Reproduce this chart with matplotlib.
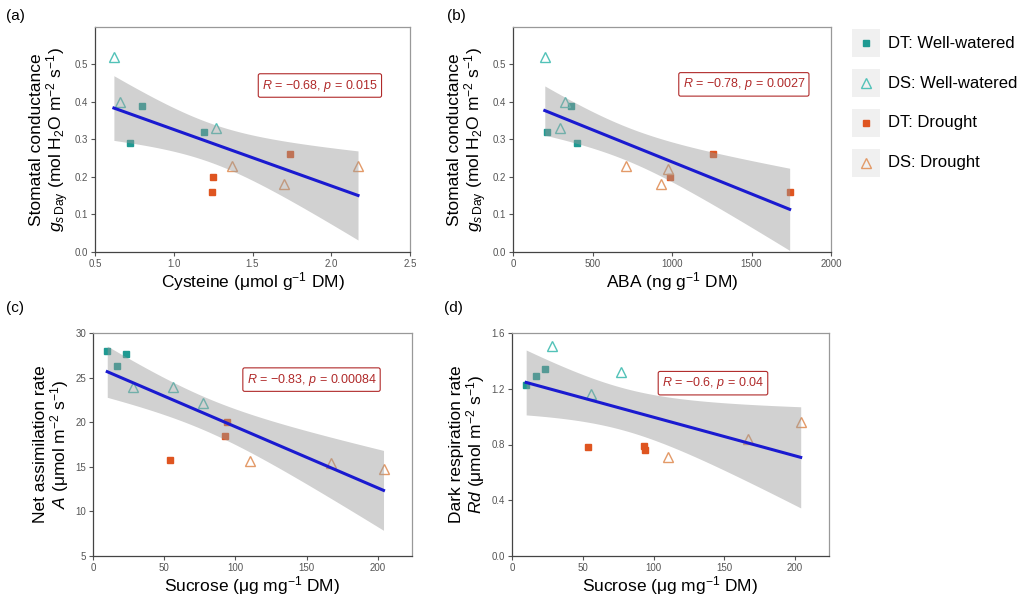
import numpy as np
import matplotlib
matplotlib.use("Agg")
import matplotlib.pyplot as plt
from matplotlib.lines import Line2D
from matplotlib.patches import Rectangle

plt.rcParams['font.family'] = ['Liberation Sans', 'DejaVu Sans']
plt.rcParams['mathtext.fontset'] = 'custom'
plt.rcParams['mathtext.rm'] = 'Liberation Sans'
plt.rcParams['mathtext.it'] = 'Liberation Sans:italic'

groups = ["DT: Well-watered", "DS: Well-watered", "DT: Drought", "DS: Drought"]

# (a) cysteine vs gs
cys_x = [[0.80, 0.72, 1.19], [0.62, 0.66, 1.27], [1.25, 1.24, 1.74], [1.37, 1.70, 2.17]]
cys_gs = [[0.39, 0.29, 0.32], [0.52, 0.40, 0.33], [0.20, 0.16, 0.26], [0.23, 0.18, 0.23]]

# (b) ABA vs gs
aba_x = [[215, 365, 400], [200, 295, 330], [985, 1255, 1740], [710, 930, 975]]
aba_gs = [[0.32, 0.39, 0.29], [0.52, 0.33, 0.40], [0.20, 0.26, 0.16], [0.23, 0.18, 0.22]]

# (c) sucrose vs A
suc_x = [[10, 17, 23], [28, 56, 77], [54, 93, 94], [110, 167, 204]]
suc_A = [[28.0, 26.3, 27.7], [23.9, 24.0, 22.2], [15.8, 18.4, 20.0], [15.7, 15.4, 14.8]]

# (d) sucrose vs Rd
suc_Rd = [[1.23, 1.29, 1.34], [1.51, 1.16, 1.32], [0.78, 0.79, 0.76], [0.71, 0.84, 0.96]]

stat_text = ["$R$ = \u22120.68, $p$ = 0.015", "$R$ = \u22120.78, $p$ = 0.0027",
             "$R$ = \u22120.83, $p$ = 0.00084", "$R$ = \u22120.6, $p$ = 0.04"]

face = ["#1f9a92", "none", "#df5520", "none"]
edge = ["#1f9a92", "#52c2b8", "#df5520", "#e39a68"]
marker = ["s", "^", "s", "^"]
msize = [5, 7, 5, 7]

W, H = 1029, 596
fig = plt.figure(figsize=(W / 100, H / 100), dpi=100)


def box(l, r, t, b):
    return [l / W, 1 - b / H, (r - l) / W, (b - t) / H]


def panel(rect, xs, ys, xlim, ylim, xticks, yticks, xlabel, ylabel, stat, stat_pos, tag, tag_pos):
    ax = fig.add_axes(rect)
    for i in range(4):
        ax.plot(xs[i], ys[i], linestyle="none", marker=marker[i], ms=msize[i],
                mfc=face[i], mec=edge[i], mew=1.0, zorder=2)
    # linear fit with 95% confidence band
    x = np.concatenate([np.array(v, float) for v in xs])
    y = np.concatenate([np.array(v, float) for v in ys])
    n = len(x)
    b1, b0 = np.polyfit(x, y, 1)
    resid = y - (b0 + b1 * x)
    s = np.sqrt(np.sum(resid ** 2) / (n - 2))
    xx = np.linspace(x.min(), x.max(), 80)
    yy = b0 + b1 * xx
    se = s * np.sqrt(1 / n + (xx - x.mean()) ** 2 / np.sum((x - x.mean()) ** 2))
    t = 2.228  # t(0.975, df=10)
    ax.fill_between(xx, yy - t * se, yy + t * se, color="#999999", alpha=0.45, lw=0, zorder=3)
    ax.plot(xx, yy, color="#1a1ad0", lw=2.2, zorder=4)

    ax.set_xlim(*xlim)
    ax.set_ylim(*ylim)
    ax.set_xticks(xticks)
    ax.set_yticks(yticks)
    ax.tick_params(labelsize=7, labelcolor="#555555", color="#555555", length=3, width=0.8, pad=2)
    for side in ["left", "bottom"]:
        ax.spines[side].set_color("#444444")
    for side in ["top", "right"]:
        ax.spines[side].set_color("#999999")
    for sp in ax.spines.values():
        sp.set_linewidth(0.9)
    ax.set_xlabel(xlabel, fontsize=12.5, labelpad=1)
    ax.set_ylabel(ylabel, fontsize=12.5, labelpad=3, linespacing=1.0)
    ax.text(stat_pos[0], stat_pos[1], stat, transform=ax.transAxes, ha="center", va="center",
            fontsize=9, color="#b02a2a",
            bbox=dict(boxstyle="round,pad=0.3,rounding_size=0.15", fc="white", ec="#b02a2a", lw=0.8))
    fig.text(tag_pos[0] / W, 1 - tag_pos[1] / H, tag, fontsize=11, ha="center", va="center")
    return ax


gs_label = "Stomatal conductance\n$g_{s\\,\\mathrm{Day}}$ (mol H$_2$O m$^{-2}$ s$^{-1}$)"

panel(box(95, 410, 27, 252), cys_x, cys_gs, (0.5, 2.5), (0, 0.6),
      [0.5, 1.0, 1.5, 2.0, 2.5], [0.0, 0.1, 0.2, 0.3, 0.4, 0.5],
      "Cysteine (\u03bcmol g$^{-1}$ DM)", gs_label, stat_text[0], (0.714, 0.74), "(a)", (15, 16))

panel(box(513, 831, 27, 252), aba_x, aba_gs, (0, 2000), (0, 0.6),
      [0, 500, 1000, 1500, 2000], [0.0, 0.1, 0.2, 0.3, 0.4, 0.5],
      "ABA (ng g$^{-1}$ DM)", gs_label, stat_text[1], (0.726, 0.745), "(b)", (456, 16))

panel(box(93, 412, 333, 556), suc_x, suc_A, (0, 224), (5, 30),
      [0, 50, 100, 150, 200], [5, 10, 15, 20, 25, 30],
      "Sucrose (\u03bcg mg$^{-1}$ DM)",
      "Net assimilation rate\n$A$ (\u03bcmol m$^{-2}$ s$^{-1}$)",
      stat_text[2], (0.685, 0.791), "(c)", (15, 308))

panel(box(512, 829, 333, 556), suc_x, suc_Rd, (0, 224), (0, 1.6),
      [0, 50, 100, 150, 200], [0.0, 0.4, 0.8, 1.2, 1.6],
      "Sucrose (\u03bcg mg$^{-1}$ DM)",
      "Dark respiration rate\n$Rd$ (\u03bcmol m$^{-2}$ s$^{-1}$)",
      stat_text[3], (0.634, 0.775), "(d)", (453, 308))

# legend with grey key backgrounds
for i, g in enumerate(groups):
    cy = 43 + 40 * i
    fig.patches.append(Rectangle(((852) / W, 1 - (cy + 14) / H), 28 / W, 28 / H,
                                 transform=fig.transFigure, fc="#f0f0f0", ec="none"))
    fig.lines.append(Line2D([866 / W], [1 - cy / H], transform=fig.transFigure,
                            marker=marker[i], ms=msize[i], mfc=face[i], mec=edge[i],
                            mew=1.0, linestyle="none"))
    fig.text(888 / W, 1 - cy / H, g, fontsize=12, va="center", ha="left")

fig.savefig("out.png", dpi=100)
